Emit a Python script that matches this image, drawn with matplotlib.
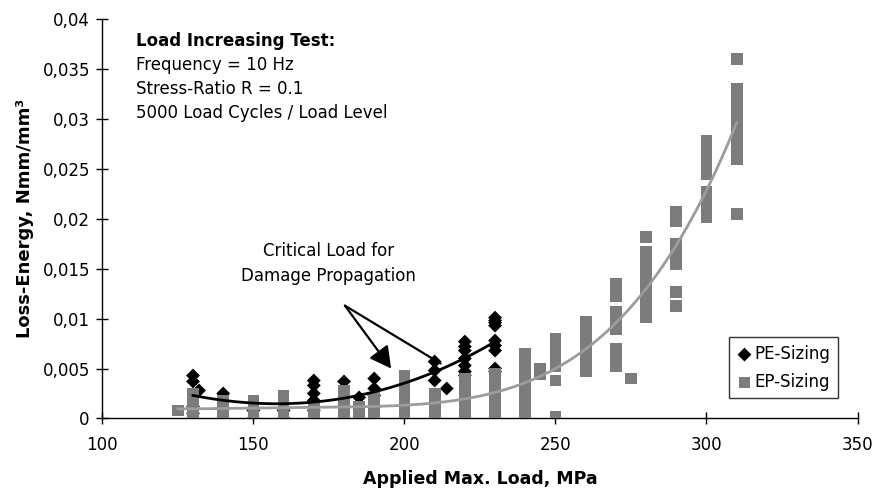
import matplotlib
matplotlib.use("Agg")
import matplotlib.pyplot as plt
import numpy as np

plt.rcParams['font.family'] = ['DejaVu Sans']

# Applied max. load (MPa) and loss energy (Nmm/mm^3)
# (the low PE values sit behind the grey EP squares)
pe_load = [130, 130, 132, 130, 130, 140, 140, 150, 150, 160, 160,
           170, 170, 170, 170, 170, 180, 180, 185,
           190, 190, 190, 190, 210, 210, 210, 214,
           220, 220, 220, 220, 220, 220, 220,
           230, 230, 230, 230, 230, 230, 230, 230, 230]
pe_energy = [0.0043, 0.0037, 0.0028, 0.0012, 0.0005, 0.0025, 0.0010, 0.0008, 0.0000, 0.0008, 0.0000,
             0.0038, 0.0033, 0.0025, 0.0018, 0.0008, 0.0037, 0.0012, 0.0021,
             0.0040, 0.0030, 0.0023, 0.0012, 0.0057, 0.0048, 0.0038, 0.0030,
             0.0077, 0.0072, 0.0068, 0.0060, 0.0053, 0.0047, 0.0043,
             0.0101, 0.0098, 0.0096, 0.0093, 0.0078, 0.0073, 0.0068, 0.0050, 0.0047]

ep_load = ([125]
           + [130] * 6 + [140] * 5 + [150] * 5 + [160] * 5 + [170] * 4
           + [180] * 6 + [185] * 2 + [190] * 5 + [200] * 8 + [210] * 5
           + [220] * 8 + [230] * 8 + [240] * 10 + [245] * 2 + [250] * 6
           + [260] * 6 + [270] * 8 + [275] + [280] * 9 + [290] * 7
           + [300] * 9 + [310] * 12)
ep_energy = [0.0008,
             0.0025, 0.0020, 0.0015, 0.0010, 0.0005, 0.0000,
             0.0018, 0.0012, 0.0007, 0.0002, 0.0000,
             0.0018, 0.0012, 0.0007, 0.0002, 0.0000,
             0.0023, 0.0017, 0.0011, 0.0006, 0.0001,
             0.0012, 0.0007, 0.0002, 0.0000,
             0.0028, 0.0022, 0.0016, 0.0010, 0.0005, 0.0000,
             0.0012, 0.0006,
             0.0021, 0.0015, 0.0009, 0.0004, 0.0000,
             0.0043, 0.0037, 0.0031, 0.0025, 0.0019, 0.0013, 0.0007, 0.0001,
             0.0025, 0.0019, 0.0013, 0.0007, 0.0001,
             0.0040, 0.0034, 0.0028, 0.0022, 0.0016, 0.0010, 0.0004, 0.0000,
             0.0045, 0.0039, 0.0033, 0.0027, 0.0021, 0.0015, 0.0009, 0.0003,
             0.0065, 0.0058, 0.0051, 0.0044, 0.0037, 0.0030, 0.0023, 0.0016, 0.0009, 0.0003,
             0.0050, 0.0044,
             0.0080, 0.0072, 0.0062, 0.0052, 0.0038, 0.0002,
             0.0097, 0.0085, 0.0075, 0.0067, 0.0058, 0.0047,
             0.0135, 0.0123, 0.0107, 0.0098, 0.0090, 0.0070, 0.0062, 0.0052,
             0.0040,
             0.0182, 0.0167, 0.0158, 0.0150, 0.0142, 0.0133, 0.0125, 0.0113, 0.0102,
             0.0207, 0.0198, 0.0175, 0.0165, 0.0155, 0.0127, 0.0113,
             0.0278, 0.0272, 0.0260, 0.0253, 0.0245, 0.0227, 0.0220, 0.0212, 0.0202,
             0.0360, 0.0330, 0.0322, 0.0313, 0.0307, 0.0295, 0.0288, 0.0282, 0.0273,
             0.0267, 0.0260, 0.0205]

info_lines = ["Load Increasing Test:", "Frequency = 10 Hz",
              "Stress-Ratio R = 0.1", "5000 Load Cycles / Load Level"]


def trend(x, y, deg):
    coef = np.polyfit(x, y, deg)
    xs = np.linspace(min(x), max(x), 200)
    return xs, np.polyval(coef, xs)


fig = plt.figure(figsize=(8.75, 4.94), dpi=100)
ax = fig.add_axes([0.117, 0.153, 0.863, 0.808])

ax.scatter(pe_load, pe_energy, marker="D", s=50, color="black",
           edgecolors="none", zorder=3, label="PE-Sizing")
ax.scatter(ep_load, ep_energy, marker="s", s=72, color="#7c7c7c",
           edgecolors="none", zorder=4, label="EP-Sizing")

xs, ys = trend(pe_load, pe_energy, 3)
ax.plot(xs, ys, color="black", lw=2, zorder=5)
xs, ys = trend(ep_load, ep_energy, 4)
ax.plot(xs, ys, color="#9c9c9c", lw=2, zorder=5)

ax.set_xlim(100, 350)
ax.set_ylim(0, 0.04)
ax.set_xticks(np.arange(100, 351, 50))
ax.set_yticks(np.arange(0, 0.0401, 0.005))
ax.set_yticklabels([("%g" % v).replace(".", ",") for v in np.arange(0, 0.0401, 0.005).round(3)])
ax.tick_params(direction="inout", length=8, width=1, labelsize=12)
ax.tick_params(axis="x", pad=9)
ax.tick_params(axis="y", pad=5)
for side in ["top", "right"]:
    ax.spines[side].set_visible(False)
for side in ["left", "bottom"]:
    ax.spines[side].set_linewidth(1)

ax.set_xlabel("Applied Max. Load, MPa", fontsize=12.5, fontweight="bold", labelpad=11)
ax.set_ylabel("Loss-Energy, Nmm/mm³", fontsize=13, fontweight="bold", labelpad=6)

for i, line in enumerate(info_lines):
    ax.text(111.2, 0.0378 - i * 0.0024, line, fontsize=12, va="center",
            fontweight="bold" if i == 0 else "normal")

ax.text(174.8, 0.0168, "Critical Load for", fontsize=12, ha="center", va="center")
ax.text(174.8, 0.0143, "Damage Propagation", fontsize=12, ha="center", va="center")

arrow = dict(arrowstyle="-|>,head_length=0.65,head_width=0.35", color="black",
             lw=1.6, mutation_scale=20, shrinkA=0, shrinkB=0)
ax.annotate("", xy=(195.6, 0.0050), xytext=(180.3, 0.0113), arrowprops=arrow, zorder=2)
ax.annotate("", xy=(212.0, 0.0055), xytext=(180.3, 0.0113),
            arrowprops=dict(arrowstyle="-", color="black", lw=1.6, shrinkA=0, shrinkB=0),
            zorder=2)

leg = ax.legend(loc="lower right", bbox_to_anchor=(0.974, 0.05), fontsize=12,
                frameon=True, fancybox=False, edgecolor="black",
                handletextpad=0.1, borderpad=0.45, labelspacing=0.6,
                handlelength=1.0, scatterpoints=1, borderaxespad=0)
leg.get_frame().set_linewidth(1)

fig.savefig("out.png", dpi=100)
